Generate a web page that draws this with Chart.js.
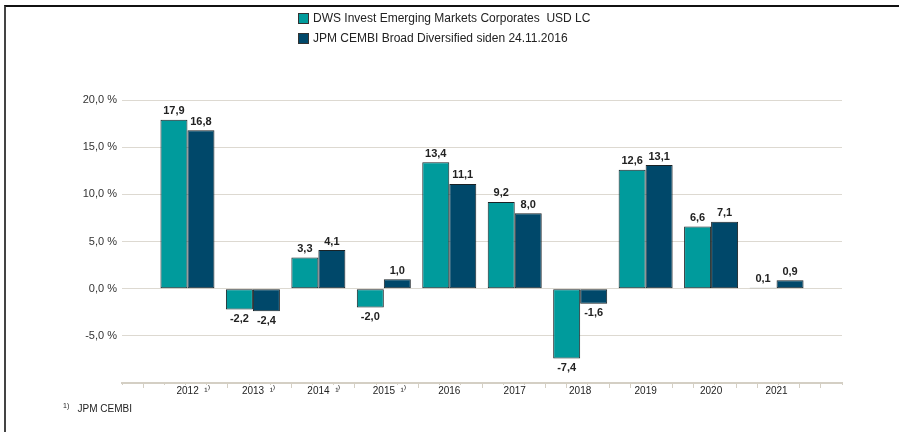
<!DOCTYPE html>
<html>
<head>
<meta charset="utf-8">
<script src="https://cdn.jsdelivr.net/npm/chart.js@4/dist/chart.umd.min.js"></script>
<style>
  html, body { margin: 0; padding: 0; background: #fff; }
  #wrap { position: relative; width: 899px; height: 432px; overflow: hidden; font-family: "Liberation Sans", Arial, sans-serif; }
  #frame { position: absolute; left: 4px; top: 5px; right: -10px; bottom: -10px; border-top: 2px solid #111; border-left: 2px solid #444; pointer-events: none; }
  #legend { position: absolute; left: 298px; top: 8px; font-size: 12px; color: #222; }
  .row { height: 20px; line-height: 20px; white-space: pre; display: flex; align-items: center; }
  .box { width: 9px; height: 9px; border: 1px solid #333; margin-right: 4px; }
  #foot { position: absolute; left: 63px; top: 403px; font-size: 10px; color: #222; white-space: pre; }
  #foot sup { font-size: 7px; position: relative; top: -1px; vertical-align: top; }
  canvas { position: absolute; left: 0; top: 0; }
</style>
</head>
<body>
<div id="wrap">
  <canvas id="c" width="899" height="432"></canvas>
  <div id="frame"></div>
  <div id="legend"></div>
  <div id="foot"><sup>1)</sup>   JPM CEMBI</div>
</div>
<script>
// ---- data ----
const years = ['2012', '2013', '2014', '2015', '2016', '2017', '2018', '2019', '2020', '2021'];
const footnoteYears = ['2012', '2013', '2014', '2015'];
const fundLabel = 'DWS Invest Emerging Markets Corporates  USD LC';
const benchLabel = 'JPM CEMBI Broad Diversified siden 24.11.2016';
const fundValues = [17.9, -2.2, 3.3, -2.0, 13.4, 9.2, -7.4, 12.6, 6.6, 0.1];
const benchValues = [16.8, -2.4, 4.1, 1.0, 11.1, 8.0, -1.6, 13.1, 7.1, 0.9];
const yTicks = [-10, -5, 0, 5, 10, 15, 20];

const fundColor = '#009b9c';
const benchColor = '#00486a';

// padded categories (an empty slot each side); footnote mark balanced by leading spaces
const labels = [''].concat(years.map(y => footnoteYears.includes(y) ? '    ' + y + '  \u00B9\u207E' : y)).concat(['']);
const pad = arr => [null].concat(arr).concat([null]);

const fmt = v => v.toFixed(1).replace('.', ',');

const valueLabels = {
  id: 'valueLabels',
  afterDatasetsDraw(chart) {
    const ctx = chart.ctx;
    ctx.save();
    ctx.font = 'bold 11px "Liberation Sans", Arial, sans-serif';
    ctx.fillStyle = '#222';
    ctx.textAlign = 'center';
    chart.data.datasets.forEach((ds, di) => {
      const meta = chart.getDatasetMeta(di);
      meta.data.forEach((el, i) => {
        const v = ds.data[i];
        if (v === null || v === undefined) return;
        if (v >= 0) { ctx.textBaseline = 'bottom'; ctx.fillText(fmt(v), el.x, el.y - 3); }
        else { ctx.textBaseline = 'top'; ctx.fillText(fmt(v), el.x, el.y + 4); }
      });
    });
    ctx.restore();
  }
};

const chart = new Chart(document.getElementById('c'), {
  type: 'bar',
  data: {
    labels: labels,
    datasets: [
      { label: fundLabel, data: pad(fundValues), backgroundColor: fundColor, borderColor: '#1a2226', borderWidth: 1, borderSkipped: false, categoryPercentage: 0.825, barPercentage: 1.0 },
      { label: benchLabel, data: pad(benchValues), backgroundColor: benchColor, borderColor: '#1a2226', borderWidth: 1, borderSkipped: false, categoryPercentage: 0.825, barPercentage: 1.0 }
    ]
  },
  options: {
    responsive: false,
    devicePixelRatio: 1,
    animation: false,
    layout: { padding: { left: 4, right: 57, top: 100, bottom: 35 } },
    plugins: { legend: { display: false }, tooltip: { enabled: false } },
    scales: {
      x: {
        type: 'category',
        offset: false,
        weight: 1,
        grid: { display: false, drawTicks: false },
        border: { display: false },
        ticks: {
          autoSkip: false, maxRotation: 0, padding: 2, z: 1,
          color: '#222',
          font: { family: '"Liberation Sans", Arial, sans-serif', size: 10 },
          showLabelBackdrop: true, backdropColor: '#ffffff', backdropPadding: { top: 0, bottom: 1, left: 2, right: 2 }
        },
        afterFit(s) { s.height = 14; }
      },
      x2: {
        type: 'linear',
        position: 'bottom',
        weight: 0,
        min: 0, max: (years.length + 1) * 3,
        ticks: { display: false, stepSize: 1 },
        grid: { drawOnChartArea: false, drawTicks: true, tickLength: 5, color: '#d4cfc4', lineWidth: 1 },
        border: { display: true, color: '#d4cfc4', width: 2 },
        afterFit(s) { s.height = 0; }
      },
      y: {
        min: yTicks[0], max: yTicks[yTicks.length - 1],
        afterBuildTicks(s) { s.ticks = yTicks.map(v => ({ value: v })); },
        ticks: {
          padding: 5,
          color: '#333',
          font: { family: '"Liberation Sans", Arial, sans-serif', size: 11 },
          callback: v => v === yTicks[0] ? '' : fmt(v) + ' %'
        },
        grid: { drawTicks: false, color: c => (c.tick && c.tick.value === yTicks[0]) ? 'rgba(0,0,0,0)' : '#ddd9d1', lineWidth: 1 },
        border: { display: false },
        afterFit(s) { s.width = 118; }
      }
    }
  },
  plugins: [valueLabels]
});

// HTML legend from datasets
const legend = document.getElementById('legend');
chart.data.datasets.forEach(ds => {
  const row = document.createElement('div');
  row.className = 'row';
  const b = document.createElement('span');
  b.className = 'box';
  b.style.background = ds.backgroundColor;
  const t = document.createElement('span');
  t.textContent = ds.label;
  row.appendChild(b); row.appendChild(t);
  legend.appendChild(row);
});
</script>
</body>
</html>
